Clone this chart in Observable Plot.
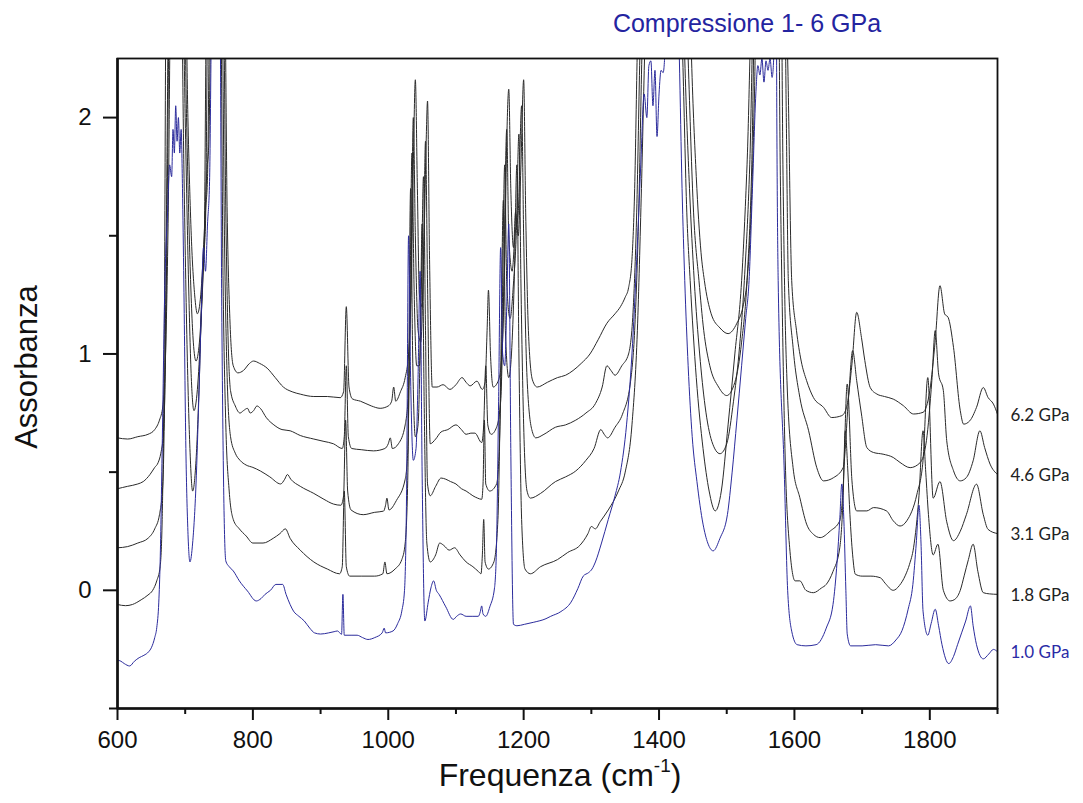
<!DOCTYPE html>
<html>
<head>
<meta charset="utf-8">
<script src="https://cdn.jsdelivr.net/npm/d3@7"></script>
<script src="https://cdn.jsdelivr.net/npm/@observablehq/plot@0.6"></script>
<style>
  html, body { margin: 0; padding: 0; background: #fff; }
  #chart { position: relative; width: 1083px; height: 803px; }
</style>
</head>
<body>
<div id="chart"></div>
<script>
// ---------- data (wavenumber cm^-1, absorbance) ----------
const pressures = ["6.2 GPa", "4.6 GPa", "3.1 GPa", "1.8 GPa", "1.0 GPa"];
const lineColors = ["#2a2a2a", "#2a2a2a", "#2a2a2a", "#2a2a2a", "#2b2b9c"];
const labelColors = ["#222222", "#222222", "#222222", "#222222", "#2b2ba6"];

const s62 = [[600,0.645],[615,0.64],[630,0.65],[645,0.66],[655,0.68],[662,0.72],[667,0.78],[671,1.0],[675,1.6],[679,2.6],[700,2.6],[704,2.0],[709,1.5],[714,1.25],[718,1.17],[723,1.25],[728,1.5],[732,1.77],[735,1.9],[739,2.6],[758,2.6],[762,1.6],[766,1.15],[771,0.95],[778,0.92],[786,0.93],[795,0.96],[801,0.97],[810,0.96],[821,0.94],[833,0.9],[845,0.86],[858,0.84],[870,0.83],[890,0.82],[910,0.82],[929,0.815],[934,0.84],[938,1.2],[942,0.86],[947,0.81],[959,0.80],[975,0.78],[988,0.77],[1000,0.78],[1005,0.8],[1008,0.86],[1011,0.8],[1018,0.84],[1025,0.9],[1030,1.0],[1034,1.3],[1037,1.8],[1040,2.16],[1043,1.7],[1046,1.25],[1050,1.2],[1053,1.5],[1056,1.9],[1058,2.07],[1061,1.4],[1065,0.86],[1072,0.86],[1081,0.87],[1091,0.85],[1100,0.87],[1109,0.9],[1115,0.88],[1121,0.865],[1131,0.885],[1139,0.85],[1143,0.88],[1146,1.1],[1148,1.27],[1151,1.0],[1155,0.86],[1163,0.89],[1168,1.0],[1172,1.4],[1175,1.9],[1178,2.12],[1181,1.7],[1185,1.45],[1188,1.6],[1192,1.5],[1196,1.8],[1200,2.16],[1203,1.6],[1207,1.1],[1213,0.89],[1220,0.86],[1235,0.88],[1250,0.90],[1262,0.91],[1273,0.93],[1285,0.96],[1298,1.0],[1310,1.06],[1323,1.13],[1335,1.17],[1343,1.2],[1350,1.24],[1355,1.28],[1360,1.4],[1364,1.7],[1368,2.3],[1372,2.7],[1444,2.7],[1448,2.25],[1455,1.75],[1462,1.43],[1467,1.31],[1477,1.17],[1490,1.11],[1502,1.086],[1515,1.13],[1524,1.2],[1530,1.31],[1536,1.6],[1541,2.1],[1545,2.7],[1585,2.7],[1590,2.25],[1596,1.31],[1603,1.10],[1610,0.97],[1618,0.887],[1628,0.816],[1643,0.774],[1655,0.731],[1670,0.739],[1677,0.774],[1685,0.958],[1692,1.176],[1699,1.07],[1704,0.972],[1712,0.858],[1722,0.83],[1733,0.82],[1746,0.809],[1761,0.781],[1776,0.746],[1790,0.753],[1800,0.845],[1808,1.056],[1815,1.289],[1822,1.169],[1827,1.155],[1835,1.028],[1845,0.76],[1850,0.703],[1859,0.717],[1869,0.774],[1879,0.858],[1886,0.816],[1894,0.788],[1900,0.745]];

const s46 = [[600,0.43],[615,0.44],[630,0.45],[638,0.46],[648,0.49],[655,0.52],[660,0.54],[664,0.58],[668,0.67],[671,1.0],[674,1.8],[677,2.6],[698,2.6],[702,2.0],[707,1.4],[712,1.05],[716,0.97],[721,1.05],[726,1.3],[730,1.6],[733,1.75],[737,2.6],[756,2.6],[760,1.6],[764,1.0],[767,0.845],[774,0.78],[781,0.75],[786,0.76],[792,0.77],[796,0.75],[801,0.76],[806,0.78],[811,0.77],[820,0.73],[831,0.70],[843,0.68],[855,0.675],[870,0.655],[890,0.64],[905,0.63],[919,0.62],[932,0.60],[935,0.65],[938,0.95],[941,0.65],[946,0.60],[960,0.595],[978,0.59],[995,0.6],[1000,0.62],[1003,0.645],[1006,0.6],[1015,0.62],[1025,0.70],[1030,0.85],[1034,1.4],[1037,2.0],[1040,1.5],[1044,1.1],[1048,1.05],[1052,1.4],[1055,1.9],[1058,1.3],[1062,0.62],[1070,0.64],[1078,0.67],[1088,0.68],[1100,0.70],[1108,0.68],[1115,0.66],[1122,0.665],[1128,0.665],[1138,0.625],[1141,0.7],[1144,0.95],[1147,0.7],[1152,0.66],[1160,0.69],[1166,0.8],[1170,1.2],[1175,1.95],[1178,1.5],[1183,1.35],[1187,1.5],[1192,1.6],[1197,2.05],[1200,1.5],[1205,0.9],[1212,0.68],[1218,0.645],[1230,0.66],[1247,0.69],[1262,0.70],[1277,0.72],[1292,0.75],[1306,0.79],[1316,0.86],[1323,0.95],[1329,0.93],[1335,0.91],[1345,0.95],[1355,1.0],[1362,1.2],[1367,1.6],[1372,2.3],[1376,2.7],[1438,2.7],[1443,2.25],[1451,1.6],[1459,1.31],[1466,1.1],[1475,0.95],[1488,0.86],[1500,0.824],[1512,0.88],[1522,1.05],[1530,1.31],[1537,1.8],[1543,2.7],[1585,2.7],[1588,2.0],[1591,1.31],[1598,1.028],[1608,0.816],[1621,0.675],[1633,0.519],[1643,0.463],[1658,0.477],[1672,0.519],[1680,0.816],[1686,1.014],[1692,0.887],[1699,0.746],[1707,0.604],[1717,0.583],[1731,0.576],[1746,0.562],[1756,0.541],[1771,0.519],[1786,0.541],[1795,0.633],[1803,0.887],[1808,1.099],[1813,0.915],[1820,0.845],[1825,0.633],[1835,0.506],[1845,0.463],[1854,0.477],[1864,0.548],[1874,0.675],[1881,0.604],[1889,0.534],[1900,0.49]];

const s31 = [[600,0.18],[615,0.185],[630,0.2],[645,0.22],[655,0.26],[662,0.32],[667,0.45],[670,0.9],[673,1.8],[676,2.6],[696,2.6],[700,2.0],[705,1.3],[709,0.9],[713,0.76],[718,0.85],[723,1.1],[727,1.4],[730,1.55],[734,2.6],[754,2.6],[758,1.5],[762,0.9],[767,0.65],[774,0.58],[781,0.55],[790,0.53],[800,0.52],[811,0.505],[825,0.48],[841,0.45],[847,0.47],[851,0.49],[856,0.47],[870,0.44],[890,0.41],[905,0.385],[919,0.365],[930,0.36],[934,0.4],[937,0.72],[940,0.42],[945,0.34],[963,0.32],[980,0.33],[993,0.335],[996,0.36],[998,0.39],[1001,0.34],[1012,0.38],[1025,0.47],[1029,0.6],[1032,1.2],[1035,1.85],[1038,1.3],[1042,0.95],[1046,0.95],[1049,1.3],[1052,1.75],[1055,1.1],[1058,0.45],[1062,0.4],[1070,0.44],[1078,0.475],[1085,0.47],[1092,0.46],[1100,0.45],[1108,0.43],[1115,0.42],[1125,0.40],[1132,0.39],[1138,0.385],[1140,0.45],[1142,0.72],[1144,0.45],[1150,0.42],[1160,0.45],[1164,0.6],[1168,1.1],[1172,1.8],[1175,1.3],[1180,1.15],[1185,1.3],[1189,1.5],[1193,1.93],[1196,1.3],[1200,0.7],[1205,0.42],[1210,0.39],[1225,0.41],[1247,0.46],[1262,0.48],[1277,0.505],[1292,0.55],[1304,0.60],[1314,0.68],[1319,0.66],[1324,0.645],[1335,0.69],[1346,0.745],[1358,0.885],[1364,1.1],[1370,1.6],[1375,2.3],[1380,2.7],[1434,2.7],[1438,2.25],[1445,1.7],[1452,1.31],[1460,1.0],[1468,0.78],[1478,0.63],[1490,0.578],[1500,0.62],[1510,0.8],[1518,1.0],[1526,1.31],[1534,1.8],[1542,2.7],[1580,2.7],[1583,1.8],[1586,1.2],[1589,0.887],[1598,0.519],[1608,0.392],[1618,0.28],[1628,0.237],[1638,0.223],[1653,0.251],[1667,0.294],[1672,0.435],[1678,0.873],[1685,0.463],[1692,0.336],[1707,0.336],[1717,0.35],[1736,0.336],[1746,0.294],[1756,0.272],[1766,0.294],[1781,0.407],[1790,0.55],[1797,0.90],[1805,0.39],[1815,0.46],[1825,0.29],[1835,0.21],[1845,0.25],[1854,0.32],[1869,0.449],[1879,0.32],[1886,0.258],[1900,0.24]];

const s18 = [[600,-0.06],[612,-0.065],[622,-0.06],[635,-0.04],[645,-0.02],[652,0.0],[658,0.04],[663,0.1],[666,0.3],[669,1.0],[672,2.6],[694,2.6],[698,1.8],[703,1.0],[707,0.6],[711,0.42],[716,0.55],[721,0.9],[725,1.3],[728,1.45],[732,2.6],[752,2.6],[756,1.3],[760,0.7],[765,0.42],[771,0.3],[780,0.26],[790,0.23],[800,0.20],[815,0.2],[830,0.22],[840,0.24],[848,0.26],[855,0.22],[870,0.17],[890,0.12],[910,0.09],[928,0.07],[932,0.1],[935,0.42],[938,0.1],[943,0.06],[960,0.06],[980,0.06],[992,0.07],[995,0.12],[998,0.07],[1010,0.09],[1020,0.13],[1025,0.2],[1029,0.5],[1033,1.7],[1036,1.0],[1040,0.65],[1044,0.7],[1047,1.0],[1050,1.55],[1053,0.8],[1057,0.2],[1062,0.12],[1070,0.15],[1076,0.2],[1082,0.19],[1090,0.17],[1098,0.18],[1106,0.15],[1115,0.12],[1125,0.1],[1133,0.08],[1137,0.07],[1139,0.15],[1141,0.3],[1143,0.12],[1148,0.09],[1156,0.12],[1162,0.3],[1166,0.9],[1170,1.65],[1173,1.1],[1178,0.9],[1182,1.0],[1186,1.3],[1190,1.8],[1193,1.0],[1197,0.3],[1202,0.09],[1210,0.07],[1225,0.1],[1250,0.13],[1265,0.16],[1283,0.19],[1295,0.24],[1300,0.27],[1306,0.26],[1313,0.29],[1325,0.34],[1340,0.42],[1350,0.5],[1360,0.7],[1368,1.1],[1374,1.7],[1380,2.4],[1384,2.7],[1430,2.7],[1435,2.25],[1441,1.6],[1446,1.31],[1455,0.9],[1465,0.6],[1474,0.42],[1483,0.336],[1492,0.42],[1502,0.7],[1512,1.0],[1522,1.31],[1530,1.8],[1540,2.7],[1576,2.7],[1579,1.8],[1582,1.2],[1586,0.6],[1593,0.18],[1601,0.04],[1608,0.04],[1617,0.0],[1628,-0.01],[1640,0.01],[1647,0.025],[1657,0.08],[1667,0.18],[1672,0.4],[1675,0.675],[1679,0.5],[1682,0.32],[1686,0.15],[1690,0.068],[1700,0.06],[1713,0.06],[1727,0.053],[1734,0.03],[1746,0.0],[1755,0.02],[1764,0.064],[1770,0.11],[1776,0.18],[1784,0.4],[1790,0.675],[1794,0.5],[1798,0.32],[1805,0.15],[1812,0.195],[1820,0.0],[1830,-0.045],[1836,-0.04],[1845,0.0],[1851,0.064],[1857,0.13],[1864,0.195],[1871,0.08],[1879,-0.01],[1888,-0.015],[1900,-0.017]];

const s10 = [[600,-0.295],[605,-0.30],[610,-0.31],[618,-0.32],[625,-0.30],[632,-0.285],[639,-0.275],[646,-0.26],[650,-0.243],[655,-0.2],[658,-0.158],[661,-0.05],[663,0.12],[666,0.6],[670,1.3],[674,1.6],[677,1.8],[680,1.75],[682,1.95],[684,1.85],[686,2.05],[688,1.9],[690,2.0],[692,1.85],[694,1.95],[696,1.7],[698,1.3],[701,0.6],[704,0.25],[707,0.12],[711,0.2],[716,0.45],[720,0.8],[724,1.2],[727,1.45],[730,1.35],[733,1.55],[736,1.73],[740,2.6],[751,2.6],[754,1.2],[757,0.4],[760,0.124],[765,0.1],[771,0.082],[780,0.04],[792,-0.003],[805,-0.045],[812,-0.035],[818,-0.017],[826,0.0],[834,0.025],[844,0.025],[849,-0.017],[855,-0.06],[860,-0.088],[868,-0.11],[876,-0.13],[884,-0.16],[891,-0.18],[900,-0.185],[912,-0.18],[920,-0.175],[925,-0.172],[931,-0.186],[933,-0.017],[935,-0.19],[945,-0.19],[954,-0.19],[962,-0.2],[970,-0.208],[980,-0.2],[991,-0.18],[994,-0.16],[996,-0.18],[1007,-0.172],[1014,-0.14],[1020,-0.088],[1024,0.0],[1027,0.4],[1030,1.5],[1033,0.9],[1037,0.55],[1041,0.6],[1044,0.9],[1047,1.35],[1050,0.5],[1054,-0.13],[1059,-0.05],[1063,0.01],[1067,0.04],[1071,0.0],[1075,-0.017],[1085,-0.07],[1096,-0.123],[1101,-0.11],[1107,-0.10],[1115,-0.11],[1125,-0.11],[1133,-0.11],[1136,-0.09],[1138,-0.066],[1140,-0.1],[1144,-0.11],[1150,-0.07],[1157,0.011],[1160,0.2],[1163,0.8],[1166,1.45],[1169,1.0],[1172,0.95],[1175,1.2],[1178,1.55],[1181,0.6],[1185,-0.144],[1190,-0.15],[1201,-0.144],[1215,-0.135],[1233,-0.12],[1240,-0.11],[1255,-0.09],[1270,-0.05],[1280,0.007],[1288,0.06],[1296,0.075],[1301,0.09],[1306,0.12],[1315,0.2],[1325,0.3],[1335,0.4],[1343,0.5],[1352,0.7],[1360,1.0],[1367,1.4],[1373,1.8],[1378,2.1],[1382,2.0],[1385,2.22],[1388,2.24],[1391,2.05],[1394,2.2],[1397,1.92],[1400,2.1],[1403,2.2],[1406,2.19],[1409,2.3],[1412,2.7],[1426,2.7],[1430,2.25],[1434,1.7],[1438,1.31],[1443,0.95],[1449,0.65],[1456,0.46],[1465,0.28],[1472,0.2],[1480,0.167],[1490,0.22],[1501,0.32],[1508,0.5],[1515,0.72],[1522,0.95],[1528,1.15],[1533,1.31],[1538,1.7],[1543,2.1],[1546,2.22],[1549,2.18],[1552,2.25],[1555,2.15],[1558,2.24],[1561,2.2],[1564,2.25],[1567,2.17],[1570,2.3],[1573,2.7],[1574,2.0],[1576,1.31],[1585,0.5],[1590,0.0],[1596,-0.173],[1604,-0.23],[1617,-0.235],[1632,-0.23],[1647,-0.16],[1657,-0.06],[1663,0.12],[1667,0.3],[1670,0.45],[1673,0.3],[1676,0.0],[1678,-0.185],[1683,-0.235],[1700,-0.235],[1720,-0.23],[1739,-0.235],[1750,-0.21],[1759,-0.17],[1768,-0.08],[1775,0.025],[1780,0.2],[1784,0.36],[1787,0.2],[1790,-0.088],[1797,-0.19],[1802,-0.14],[1808,-0.08],[1813,-0.15],[1818,-0.23],[1828,-0.31],[1835,-0.28],[1841,-0.23],[1847,-0.18],[1853,-0.13],[1860,-0.066],[1864,-0.15],[1869,-0.23],[1879,-0.29],[1887,-0.27],[1894,-0.25],[1900,-0.26]];

const xDomain = [600, 1900];
const yDomain = [-0.5, 2.25];
const xMajor = [600, 800, 1000, 1200, 1400, 1600, 1800];
const xMinor = [700, 900, 1100, 1300, 1500, 1700, 1900];
const yMajor = [0, 1, 2];
const yMinor = [-0.5, 0.5, 1.5];

const titleText = "Compressione 1- 6 GPa";
const yLabelText = "Assorbanza";
const xLabelText = "Frequenza (cm";
const xLabelSup = "-1";

// ---------- build ----------
const seriesList = [s62, s46, s31, s18, s10];
const rows = seriesList.flatMap((s, i) => s.map(([f, a]) => ({f, a, p: pressures[i]})));
const ends = seriesList.map((s, i) => ({f: s[s.length - 1][0], a: s[s.length - 1][1], p: pressures[i]}));

const W = 1083, H = 803;
const mL = 117, mR = 86, mT = 58, mB = 95;

const chart = Plot.plot({
  width: W,
  height: H,
  marginLeft: mL,
  marginRight: mR,
  marginTop: mT,
  marginBottom: mB,
  style: {fontFamily: "'Liberation Sans', Arial, sans-serif", background: "#fff", color: "#111"},
  x: {domain: xDomain},
  y: {domain: yDomain},
  color: {type: "ordinal", domain: pressures, range: lineColors},
  marks: [
    Plot.line(rows, {x: "f", y: "a", z: "p", stroke: "p", strokeWidth: 1, curve: "monotone-x", clip: true}),
    Plot.text(ends, {x: "f", y: "a", text: "p", fill: (d) => labelColors[pressures.indexOf(d.p)], textAnchor: "start", dx: 13, dy: 1, fontSize: 17, fontFamily: "Lato, 'Open Sans', sans-serif"}),
    Plot.axisX({ticks: xMajor, tickSize: 12, tickPadding: 10, fontSize: 24, strokeWidth: 2, label: null, tickFormat: (d) => String(d)}),
    Plot.axisX({ticks: xMinor, tickSize: 6, strokeWidth: 2, label: null, tickFormat: () => ""}),
    Plot.axisY({ticks: yMajor, tickSize: 14, tickPadding: 12, fontSize: 24, strokeWidth: 2, label: null, tickFormat: (d) => String(d)}),
    Plot.axisY({ticks: yMinor, tickSize: 8, strokeWidth: 2, label: null, tickFormat: () => ""}),
    Plot.frame({stroke: "#111", strokeWidth: 1.8}),
    Plot.ruleX([xDomain[0]], {stroke: "#111", strokeWidth: 2.6}),
    Plot.ruleY([yDomain[0]], {stroke: "#111", strokeWidth: 2.6})
  ]
});

document.getElementById("chart").appendChild(chart);

// titles & axis labels (text only)
const svg = d3.select(chart);
svg.append("text")
  .attr("x", 747).attr("y", 32)
  .attr("text-anchor", "middle")
  .attr("font-size", 25)
  .attr("fill", "#2424a0")
  .text(titleText);

svg.append("text")
  .attr("transform", "translate(37,367) rotate(-90)")
  .attr("text-anchor", "middle")
  .attr("font-size", 31)
  .attr("fill", "#111")
  .text(yLabelText);

const xl = svg.append("text")
  .attr("x", (mL + (W - mR)) / 2 + 3).attr("y", 786)
  .attr("text-anchor", "middle")
  .attr("font-size", 32)
  .attr("fill", "#111");
xl.append("tspan").text(xLabelText);
xl.append("tspan").attr("font-size", 19).attr("dy", -14).text(xLabelSup);
xl.append("tspan").attr("dy", 14).text(")");
</script>
</body>
</html>
